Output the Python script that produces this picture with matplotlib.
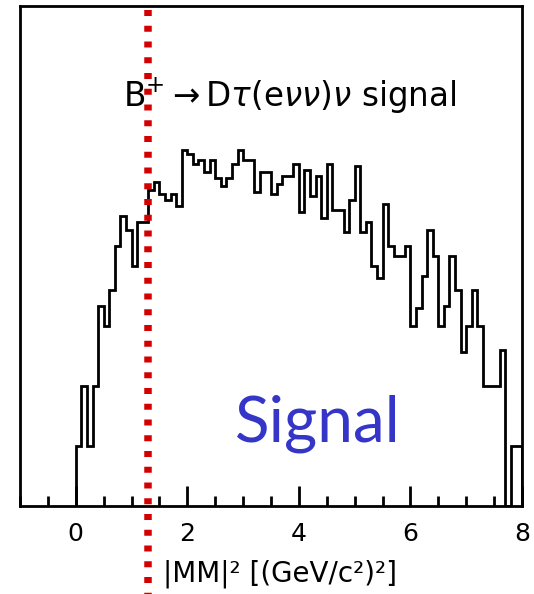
import numpy as np
import matplotlib
matplotlib.use('Agg')
import matplotlib.pyplot as plt
from matplotlib.ticker import MultipleLocator, NullLocator

# ================= data =================
# |MM|^2 histogram, 80 bins of 0.1 (GeV/c^2)^2 from 0 to 8
BIN_LO, BIN_HI, N_BINS = 0.0, 8.0, 80
counts = [30, 60, 30, 60, 100, 90, 108, 130, 145, 138,
          120, 142, 142, 158, 162, 156, 153, 156, 150, 178,
          176, 171, 173, 167, 173, 164, 160, 164, 171, 178,
          173, 173, 157, 167, 167, 156, 161, 165, 165, 171,
          147, 168, 155, 165, 144, 171, 148, 148, 137, 153,
          170, 137, 142, 120, 114, 151, 130, 125, 125, 130,
          90, 99, 115, 138, 125, 90, 100, 125, 108, 77,
          90, 108, 90, 60, 60, 60, 78, 0, 30, 30]
mm2_cut = 1.29
x_ticks = [0, 2, 4, 6, 8]
x_label = '|MM|² [(GeV/c²)²]'
title = r'B$^{+}$$\rightarrow$D$\tau$(e$\nu\nu$)$\nu$ signal'
tag = 'Signal'

# ================= plot =================
fig = plt.figure(figsize=(5.34, 5.94), dpi=100)
ax = fig.add_axes([20/534, 1 - 505.5/594, 502/534, 499.5/594])

edges = np.linspace(BIN_LO, BIN_HI, N_BINS + 1)
ax.stairs(counts, edges, color='black', lw=2.0, baseline=0, zorder=2)

ax.set_xlim(-1, 8)
ax.set_ylim(0, 250)

# cut line, runs past the frame down to the bottom of the picture
ax.plot([mm2_cut, mm2_cut], [0.992, -0.18], transform=ax.get_xaxis_transform(),
        clip_on=False, color='#d40000', lw=5.4, dashes=(0.8, 1.3),
        dash_capstyle='butt', zorder=5)

for s in ax.spines.values():
    s.set_linewidth(2.0)

ax.xaxis.set_major_locator(MultipleLocator(2))
ax.xaxis.set_minor_locator(MultipleLocator(0.5))
ax.set_xticks(x_ticks)
ax.set_xticklabels([str(t) for t in x_ticks])
ax.yaxis.set_major_locator(NullLocator())
ax.yaxis.set_minor_locator(NullLocator())
ax.tick_params(axis='x', which='major', direction='in', length=14.4, width=2.0,
               labelsize=18, pad=12)
ax.tick_params(axis='x', which='minor', direction='in', length=7.2, width=2.0)

ax.set_xlabel(x_label, fontsize=20)
ax.xaxis.set_label_coords((280 - 20) / 502, -0.108)

ax.text(0.85, 199.4, title, fontsize=23.5, ha='left', va='baseline')
ax.text(4.34, 32.2, tag, fontsize=46, family='Lato', color='#3535c8',
        ha='center', va='baseline')

fig.savefig('out.png', dpi=100)
